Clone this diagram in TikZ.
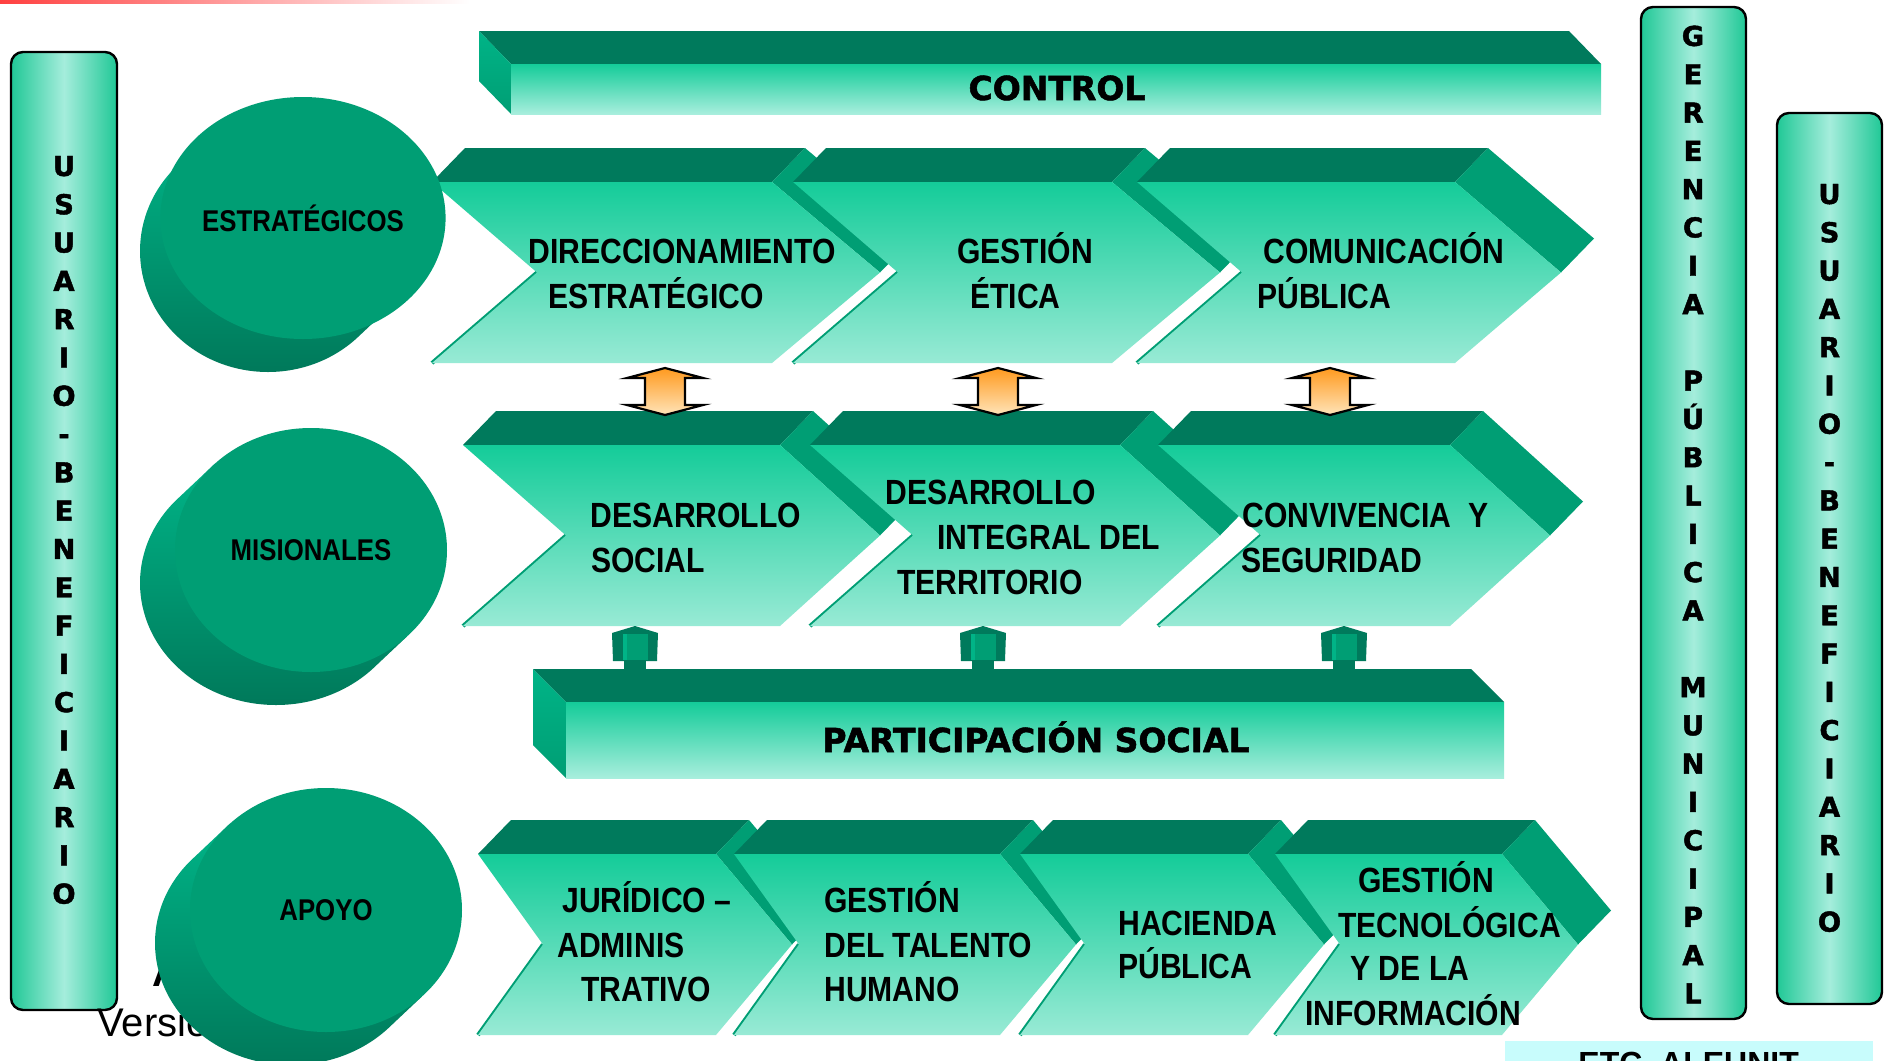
\documentclass[tikz,border=0pt]{standalone}
\usepackage{fontspec}
\setmainfont{Liberation Sans}
\newfontfamily\narrowfont{Liberation Sans}[FakeStretch=0.86]
\newfontfamily\heavyfont{DejaVu Sans Bold}[FakeBold=1.6]
\usetikzlibrary{shapes.geometric,calc}
\definecolor{dkgreen}{RGB}{0,122,92}
\definecolor{mdgreen}{RGB}{0,158,116}
\definecolor{ltgreen}{RGB}{0,180,135}
\definecolor{cyldark}{RGB}{0,118,88}
\definecolor{fronttop}{RGB}{20,204,153}
\definecolor{frontbot}{RGB}{152,234,213}
\definecolor{barbot}{RGB}{168,238,221}
\definecolor{boxedge}{RGB}{32,200,150}
\definecolor{boxmid}{RGB}{165,237,220}
\definecolor{orangetop}{RGB}{255,154,31}
\definecolor{orangebot}{RGB}{255,228,185}
\definecolor{cyanbox}{RGB}{200,252,252}
\tikzset{
  topface/.style={fill=dkgreen},
  sideface/.style={fill=mdgreen},
  notchline/.style={draw=mdgreen, line width=2pt},
  frontface/.style={top color=fronttop, bottom color=frontbot},
  barfront/.style={top color=fronttop, bottom color=barbot},
  barside/.style={top color=ltgreen, bottom color=mdgreen},
  chevtxt/.style={font=\narrowfont\bfseries\fontsize{17.5}{21}\selectfont, anchor=base west, inner sep=0},
  cyltxt/.style={font=\narrowfont\bfseries\fontsize{15}{18}\selectfont},
  bartxt/.style={font=\heavyfont\fontsize{16.5}{20}\selectfont, inner sep=0, anchor=base},
  vtxt/.style={font=\heavyfont\fontsize{13.7}{19.15}\selectfont, align=center, inner sep=0},
  sidebox/.style={draw=black, line width=1.2pt, rounded corners=6pt, left color=boxedge, right color=boxedge, middle color=boxmid},
  orangearrow/.style={draw=black, line width=1.1pt, top color=orangetop, bottom color=orangebot},
  cylside/.style={top color=ltgreen, bottom color=cyldark},
  cylface/.style={ellipse, fill=mdgreen, inner sep=0},
}
% chevron: x0 x1 ytop ybot tipdepth notchdepth
\newcommand\chevshape[6]{%
  \pgfmathsetmacro\cA{#1+33}%
  \pgfmathsetmacro\cB{#2+33}%
  \pgfmathsetmacro\yT{#3-34}%
  \pgfmathsetmacro\yM{(#3+#4)/2}%
  \pgfmathsetmacro\yMb{\yM-34}%
  \pgfmathsetmacro\xT{#2+#5}%
  \pgfmathsetmacro\xTb{#2+#5+33}%
  \pgfmathsetmacro\xN{#1+#6}%
  \fill[topface] (#1,#3) -- (\cA,\yT) -- (\cB,\yT) -- (#2,#3) -- cycle;
  \fill[sideface] (#2,#3) -- (\cB,\yT) -- (\xTb,\yMb) -- (\xT,\yM) -- cycle;
  \draw[notchline] (\xN,\yM) -- (#1,#4);
  \shade[frontface] (#1,#3) -- (#2,#3) -- (\xT,\yM) -- (#2,#4) -- (#1,#4) -- (\xN,\yM) -- cycle;
}
% cylinder: name cx cy rx ry text
\newcommand\cylinder[6]{%
  \shade[cylside] ($(#2,#3)+(-35,33)+(225:#4 and #5)$) arc[start angle=225, end angle=45, x radius=#4, y radius=#5]
     -- ($(#2,#3)+(45:#4 and #5)$) -- ($(#2,#3)+(225:#4 and #5)$) -- cycle;
  \node[cylface, cyltxt, minimum width=#4pt, minimum height=#5pt] (#1) at (#2,#3) {#6};
}
\newcommand\orangedbl[1]{%
  \draw[orangearrow] (#1,368) -- ({#1+38},378) -- ({#1+20},378) -- ({#1+20},405) -- ({#1+38},405)
     -- (#1,415) -- ({#1-38},405) -- ({#1-20},405) -- ({#1-20},378) -- ({#1-38},378) -- cycle;
}
\newcommand\greenconn[1]{%
  \fill[dkgreen] ({#1-23},633) -- (#1,626) -- ({#1+23},633) -- ({#1+22},661) -- ({#1-22},661) -- cycle;
  \fill[mdgreen] ({#1-12},634) rectangle ({#1+13},660);
  \fill[ltgreen] ({#1-12},634) rectangle ({#1-8},660);
  \fill[dkgreen] ({#1-11},660) rectangle ({#1+11},670);
}
\begin{document}
\begin{tikzpicture}[x=0.5pt, y=-0.5pt]
\useasboundingbox (0,0) rectangle (1887,1061);
\fill[white] (0,0) rectangle (1887,1061);
% red line
\shade[left color=red!75!white, right color=white] (0,0) rectangle (470,3);

% side boxes
\draw[sidebox] (11,52) rectangle (117,1010);
\node[vtxt] (usu1) at (64,530) {U\\S\\U\\A\\R\\I\\O\\-\\B\\E\\N\\E\\F\\I\\C\\I\\A\\R\\I\\O};
\draw[sidebox] (1641,7) rectangle (1746,1019);
\node[vtxt] (geren) at (1693,514.5) {G\\E\\R\\E\\N\\C\\I\\A\\~\\P\\Ú\\B\\L\\I\\C\\A\\~\\M\\U\\N\\I\\C\\I\\P\\A\\L};
\draw[sidebox] (1777,113) rectangle (1882,1004);
\node[vtxt] (usu2) at (1829.5,558) {U\\S\\U\\A\\R\\I\\O\\-\\B\\E\\N\\E\\F\\I\\C\\I\\A\\R\\I\\O};

% CONTROL bar
\fill[topface] (511,64) -- (479,31) -- (1569,31) -- (1601,64) -- cycle;
\shade[barside] (511,64) -- (479,31) -- (479,81) -- (511,114) -- cycle;
\shade[barfront] (511,64) rectangle (1601,114);
\node[bartxt] (control) at (1057,100) {CONTROL};

% row 1
\chevshape{432}{772}{182}{363}{108}{105}
\chevshape{793}{1112}{182}{363}{108}{105}
\chevshape{1137}{1455}{182}{363}{106}{105}
% row 2
\chevshape{463}{780}{445}{626}{100}{103}
\chevshape{810}{1120}{445}{626}{100}{103}
\chevshape{1158}{1450}{445}{626}{100}{103}
% row 3
\chevshape{478}{716}{854}{1035}{76}{65}
\chevshape{734}{1000}{854}{1035}{76}{65}
\chevshape{1020}{1248}{854}{1035}{76}{65}
\chevshape{1275}{1502}{854}{1035}{76}{65}

% arrows between rows 1 and 2
\orangedbl{665}
\orangedbl{998}
\orangedbl{1330}

% participacion bar
\fill[topface] (566,702) -- (533,669) -- (1471,669) -- (1504,702) -- cycle;
\shade[barside] (566,702) -- (533,669) -- (533,745) -- (566,778) -- cycle;
\shade[barfront] (566,702) rectangle (1504,778);
\node[bartxt] (partsoc) at (1036,752) {PARTICIPACIÓN SOCIAL};
\greenconn{635}
\greenconn{983}
\greenconn{1344}

% row texts
\node[chevtxt] (r1a1) at (528,263) {DIRECCIONAMIENTO};
\node[chevtxt] (r1a2) at (548,308) {ESTRATÉGICO};
\node[chevtxt] (r1b1) at (957,263) {GESTIÓN};
\node[chevtxt] (r1b2) at (970,308) {ÉTICA};
\node[chevtxt] (r1c1) at (1263,263) {COMUNICACIÓN};
\node[chevtxt] (r1c2) at (1257,308) {PÚBLICA};

\node[chevtxt] (r2a1) at (590,527) {DESARROLLO};
\node[chevtxt] (r2a2) at (591,572) {SOCIAL};
\node[chevtxt] (r2b1) at (885,504) {DESARROLLO};
\node[chevtxt] (r2b2) at (937,549) {INTEGRAL DEL};
\node[chevtxt] (r2b3) at (897,594) {TERRITORIO};
\node[chevtxt] (r2c1) at (1242,527) {CONVIVENCIA \ Y};
\node[chevtxt] (r2c2) at (1241,572) {SEGURIDAD};

\node[chevtxt] (r3a1) at (562,912) {JURÍDICO –};
\node[chevtxt] (r3a2) at (557,957) {ADMINIS};
\node[chevtxt] (r3a3) at (581,1001) {TRATIVO};
\node[chevtxt] (r3b1) at (824,912) {GESTIÓN};
\node[chevtxt] (r3b2) at (824,957) {DEL TALENTO};
\node[chevtxt] (r3b3) at (824,1001) {HUMANO};
\node[chevtxt] (r3c1) at (1118,935) {HACIENDA};
\node[chevtxt] (r3c2) at (1118,978) {PÚBLICA};
\node[chevtxt] (r3d1) at (1358,892) {GESTIÓN};
\node[chevtxt] (r3d2) at (1338,937) {TECNOLÓGICA};
\node[chevtxt] (r3d3) at (1350,980) {Y DE LA};
\node[chevtxt] (r3d4) at (1305,1025) {INFORMACIÓN};

% partly hidden texts
\node[anchor=base west, inner sep=0, font=\fontsize{20}{24}\selectfont] (version) at (97,1036) {Versión};
\node[anchor=base west, inner sep=0, font=\bfseries\fontsize{20}{24}\selectfont] (hidA) at (152,986) {A};

% cylinders
\cylinder{estr}{303}{218}{128}{121}{ESTRATÉGICOS}
\cylinder{misi}{311}{550}{136}{122}{MISIONALES}
\cylinder{apoy}{326}{910}{136}{122}{APOYO}

% bottom-right box
\fill[cyanbox] (1505,1041) rectangle (1873,1080);
\node[anchor=base west, inner sep=0, font=\bfseries\fontsize{16}{19}\selectfont] (etc) at (1578,1074) {ETC \ ALEUNIT};
\end{tikzpicture}
\end{document}
